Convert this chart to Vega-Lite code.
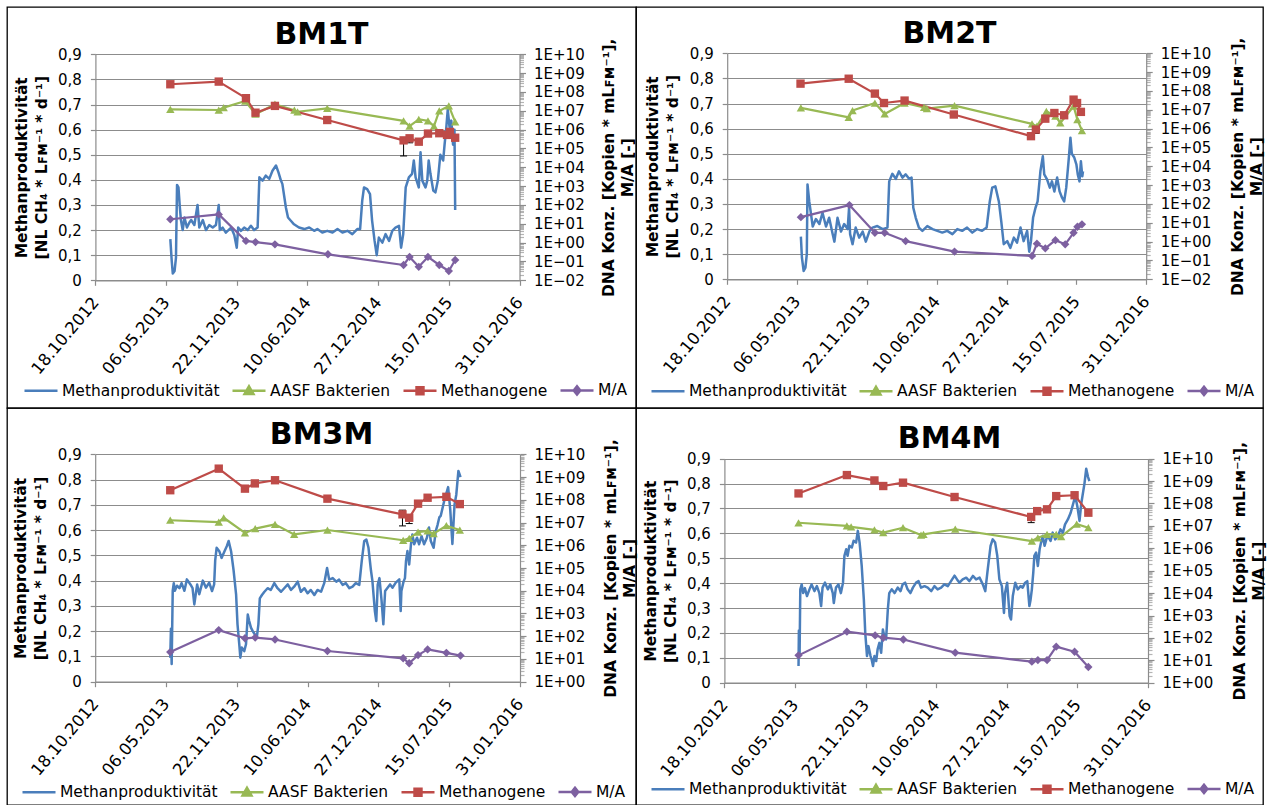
{
"$schema": "https://vega.github.io/schema/vega-lite/v6.json",
"padding": {"left": 6, "top": 6, "right": 0, "bottom": 0},
"background": "white",
"columns": 2,
"spacing": 0,
"bounds": "flush",
"resolve": {"scale": {"color": "independent", "shape": "independent", "x": "independent", "y": "independent"}, "legend": {"color": "independent", "shape": "independent"}},
"datasets": {
"p1": [
{"d":"2013-05-18","v":0.164},{"d":"2013-05-22","v":0.077},{"d":"2013-05-25","v":0.027},{"d":"2013-05-30","v":0.037},{"d":"2013-06-03","v":0.09},{"d":"2013-06-06","v":0.38},{"d":"2013-06-10","v":0.37},{"d":"2013-06-14","v":0.29},{"d":"2013-06-17","v":0.24},{"d":"2013-06-22","v":0.20},{"d":"2013-06-27","v":0.25},{"d":"2013-07-04","v":0.21},{"d":"2013-07-11","v":0.23},{"d":"2013-07-16","v":0.24},{"d":"2013-07-25","v":0.22},{"d":"2013-08-03","v":0.30},{"d":"2013-08-08","v":0.21},{"d":"2013-08-18","v":0.24},{"d":"2013-08-27","v":0.20},{"d":"2013-09-05","v":0.22},{"d":"2013-09-15","v":0.21},{"d":"2013-09-24","v":0.22},{"d":"2013-10-02","v":0.30},{"d":"2013-10-05","v":0.20},{"d":"2013-10-13","v":0.21},{"d":"2013-10-22","v":0.19},{"d":"2013-11-06","v":0.21},{"d":"2013-11-15","v":0.18},{"d":"2013-11-22","v":0.13},{"d":"2013-11-26","v":0.21},{"d":"2013-12-04","v":0.197},{"d":"2013-12-13","v":0.21},{"d":"2013-12-23","v":0.20},{"d":"2014-01-01","v":0.217},{"d":"2014-01-10","v":0.20},{"d":"2014-01-20","v":0.21},{"d":"2014-01-25","v":0.41},{"d":"2014-02-03","v":0.397},{"d":"2014-02-12","v":0.417},{"d":"2014-02-22","v":0.404},{"d":"2014-03-03","v":0.436},{"d":"2014-03-13","v":0.457},{"d":"2014-03-20","v":0.43},{"d":"2014-03-27","v":0.397},{"d":"2014-03-31","v":0.384},{"d":"2014-04-10","v":0.29},{"d":"2014-04-16","v":0.25},{"d":"2014-04-24","v":0.237},{"d":"2014-05-03","v":0.223},{"d":"2014-05-17","v":0.21},{"d":"2014-06-01","v":0.204},{"d":"2014-06-15","v":0.21},{"d":"2014-06-29","v":0.197},{"d":"2014-07-08","v":0.204},{"d":"2014-07-22","v":0.19},{"d":"2014-08-05","v":0.197},{"d":"2014-08-20","v":0.19},{"d":"2014-09-03","v":0.204},{"d":"2014-09-17","v":0.19},{"d":"2014-10-01","v":0.197},{"d":"2014-10-15","v":0.184},{"d":"2014-10-29","v":0.204},{"d":"2014-11-06","v":0.204},{"d":"2014-11-12","v":0.317},{"d":"2014-11-17","v":0.37},{"d":"2014-11-26","v":0.363},{"d":"2014-12-04","v":0.343},{"d":"2014-12-10","v":0.237},{"d":"2014-12-17","v":0.157},{"d":"2014-12-23","v":0.10},{"d":"2014-12-29","v":0.17},{"d":"2015-01-08","v":0.15},{"d":"2015-01-17","v":0.184},{"d":"2015-01-27","v":0.157},{"d":"2015-02-05","v":0.197},{"d":"2015-02-14","v":0.21},{"d":"2015-02-24","v":0.217},{"d":"2015-03-02","v":0.13},{"d":"2015-03-08","v":0.184},{"d":"2015-03-15","v":0.37},{"d":"2015-03-24","v":0.41},{"d":"2015-04-02","v":0.424},{"d":"2015-04-07","v":0.477},{"d":"2015-04-12","v":0.41},{"d":"2015-04-21","v":0.37},{"d":"2015-04-26","v":0.51},{"d":"2015-05-01","v":0.397},{"d":"2015-05-10","v":0.37},{"d":"2015-05-15","v":0.397},{"d":"2015-05-19","v":0.477},{"d":"2015-05-24","v":0.424},{"d":"2015-06-01","v":0.357},{"d":"2015-06-07","v":0.35},{"d":"2015-06-14","v":0.397},{"d":"2015-06-21","v":0.50},{"d":"2015-06-29","v":0.477},{"d":"2015-07-03","v":0.54},{"d":"2015-07-08","v":0.61},{"d":"2015-07-12","v":0.68},{"d":"2015-07-17","v":0.61},{"d":"2015-07-22","v":0.636},{"d":"2015-07-27","v":0.54},{"d":"2015-07-31","v":0.60},{"d":"2015-08-02","v":0.28}
],
"q1": [
{"d":"2013-05-18","s":"AASF Bakterien","v":1.2e7},{"d":"2013-10-02","s":"AASF Bakterien","v":1.1e7},{"d":"2013-10-16","s":"AASF Bakterien","v":1.48e7},{"d":"2013-12-16","s":"AASF Bakterien","v":3.3e7},{"d":"2014-01-14","s":"AASF Bakterien","v":6.6e6},{"d":"2014-03-10","s":"AASF Bakterien","v":2.24e7},{"d":"2014-05-04","s":"AASF Bakterien","v":1.07e7},{"d":"2014-05-13","s":"AASF Bakterien","v":8.9e6},{"d":"2014-08-05","s":"AASF Bakterien","v":1.35e7},{"d":"2015-03-09","s":"AASF Bakterien","v":2.9e6},{"d":"2015-03-26","s":"AASF Bakterien","v":1.55e6},{"d":"2015-04-21","s":"AASF Bakterien","v":3.55e6},{"d":"2015-05-17","s":"AASF Bakterien","v":2.9e6},{"d":"2015-06-03","s":"AASF Bakterien","v":1.55e6},{"d":"2015-06-18","s":"AASF Bakterien","v":9.8e6},{"d":"2015-07-15","s":"AASF Bakterien","v":1.82e7},{"d":"2015-08-02","s":"AASF Bakterien","v":2.57e6},
{"d":"2013-05-18","s":"Methanogene","v":2.57e8},{"d":"2013-10-02","s":"Methanogene","v":3.55e8},{"d":"2013-12-18","s":"Methanogene","v":4.68e7},{"d":"2014-01-14","s":"Methanogene","v":7.94e6},{"d":"2014-03-10","s":"Methanogene","v":1.82e7},{"d":"2014-08-05","s":"Methanogene","v":3.24e6},{"d":"2015-03-09","s":"Methanogene","v":2.69e5},{"d":"2015-03-26","s":"Methanogene","v":3.47e5},{"d":"2015-04-21","s":"Methanogene","v":2.29e5},{"d":"2015-05-17","s":"Methanogene","v":6.17e5},{"d":"2015-06-18","s":"Methanogene","v":6.46e5},{"d":"2015-07-10","s":"Methanogene","v":5.25e5},{"d":"2015-07-18","s":"Methanogene","v":7.59e5},{"d":"2015-08-02","s":"Methanogene","v":3.72e5},
{"d":"2013-05-18","s":"M/A","v":17.4},{"d":"2013-10-02","s":"M/A","v":31.6},{"d":"2013-12-18","s":"M/A","v":1.23},{"d":"2014-01-14","s":"M/A","v":1.07},{"d":"2014-03-10","s":"M/A","v":0.81},{"d":"2014-08-07","s":"M/A","v":0.24},{"d":"2015-03-09","s":"M/A","v":0.065},{"d":"2015-03-26","s":"M/A","v":0.174},{"d":"2015-04-21","s":"M/A","v":0.052},{"d":"2015-05-17","s":"M/A","v":0.174},{"d":"2015-06-18","s":"M/A","v":0.065},{"d":"2015-07-15","s":"M/A","v":0.031},{"d":"2015-08-02","s":"M/A","v":0.12}
],
"e1": [
{"d":"2015-03-09","v":4.0e4,"id":1},{"d":"2015-03-09","v":3.2e5,"id":1},{"d":"2015-03-26","v":2.0e5,"id":2},{"d":"2015-03-26","v":4.5e5,"id":2}
],
"p2": [
{"d":"2013-05-17","v":0.17},{"d":"2013-05-20","v":0.086},{"d":"2013-05-25","v":0.033},{"d":"2013-05-30","v":0.046},{"d":"2013-06-03","v":0.10},{"d":"2013-06-05","v":0.378},{"d":"2013-06-10","v":0.31},{"d":"2013-06-15","v":0.26},{"d":"2013-06-20","v":0.21},{"d":"2013-06-29","v":0.24},{"d":"2013-07-09","v":0.22},{"d":"2013-07-18","v":0.265},{"d":"2013-07-28","v":0.21},{"d":"2013-08-06","v":0.245},{"d":"2013-08-16","v":0.18},{"d":"2013-08-21","v":0.15},{"d":"2013-08-30","v":0.245},{"d":"2013-09-09","v":0.19},{"d":"2013-09-18","v":0.22},{"d":"2013-09-28","v":0.20},{"d":"2013-10-02","v":0.285},{"d":"2013-10-05","v":0.18},{"d":"2013-10-12","v":0.14},{"d":"2013-10-21","v":0.206},{"d":"2013-10-31","v":0.166},{"d":"2013-11-10","v":0.19},{"d":"2013-11-19","v":0.15},{"d":"2013-11-29","v":0.19},{"d":"2013-12-08","v":0.206},{"d":"2013-12-22","v":0.212},{"d":"2014-01-06","v":0.20},{"d":"2014-01-20","v":0.206},{"d":"2014-01-25","v":0.39},{"d":"2014-02-03","v":0.42},{"d":"2014-02-13","v":0.40},{"d":"2014-02-22","v":0.43},{"d":"2014-03-04","v":0.405},{"d":"2014-03-13","v":0.418},{"d":"2014-03-23","v":0.40},{"d":"2014-03-30","v":0.405},{"d":"2014-04-04","v":0.285},{"d":"2014-04-11","v":0.245},{"d":"2014-04-20","v":0.206},{"d":"2014-04-30","v":0.193},{"d":"2014-05-14","v":0.212},{"d":"2014-05-29","v":0.20},{"d":"2014-06-12","v":0.193},{"d":"2014-06-26","v":0.186},{"d":"2014-07-10","v":0.193},{"d":"2014-07-25","v":0.18},{"d":"2014-08-08","v":0.20},{"d":"2014-08-22","v":0.193},{"d":"2014-09-05","v":0.206},{"d":"2014-09-20","v":0.186},{"d":"2014-10-04","v":0.20},{"d":"2014-10-18","v":0.193},{"d":"2014-10-31","v":0.206},{"d":"2014-11-09","v":0.31},{"d":"2014-11-16","v":0.365},{"d":"2014-11-25","v":0.37},{"d":"2014-12-05","v":0.31},{"d":"2014-12-12","v":0.23},{"d":"2014-12-19","v":0.14},{"d":"2014-12-29","v":0.152},{"d":"2015-01-07","v":0.125},{"d":"2015-01-17","v":0.166},{"d":"2015-01-26","v":0.146},{"d":"2015-02-05","v":0.206},{"d":"2015-02-14","v":0.152},{"d":"2015-02-24","v":0.193},{"d":"2015-03-02","v":0.11},{"d":"2015-03-07","v":0.152},{"d":"2015-03-13","v":0.245},{"d":"2015-03-20","v":0.285},{"d":"2015-03-26","v":0.31},{"d":"2015-04-03","v":0.43},{"d":"2015-04-10","v":0.49},{"d":"2015-04-14","v":0.418},{"d":"2015-04-22","v":0.398},{"d":"2015-04-30","v":0.365},{"d":"2015-05-06","v":0.39},{"d":"2015-05-13","v":0.35},{"d":"2015-05-21","v":0.405},{"d":"2015-05-28","v":0.35},{"d":"2015-06-04","v":0.325},{"d":"2015-06-10","v":0.31},{"d":"2015-06-16","v":0.365},{"d":"2015-06-23","v":0.477},{"d":"2015-06-28","v":0.564},{"d":"2015-07-02","v":0.50},{"d":"2015-07-09","v":0.485},{"d":"2015-07-15","v":0.458},{"d":"2015-07-19","v":0.418},{"d":"2015-07-24","v":0.39},{"d":"2015-07-28","v":0.47},{"d":"2015-08-01","v":0.41},{"d":"2015-08-03","v":0.43}
],
"q2": [
{"d":"2013-05-17","s":"AASF Bakterien","v":1.26e7},{"d":"2013-10-01","s":"AASF Bakterien","v":3.98e6},{"d":"2013-10-12","s":"AASF Bakterien","v":9.1e6},{"d":"2013-12-15","s":"AASF Bakterien","v":2.29e7},{"d":"2014-01-12","s":"AASF Bakterien","v":6.03e6},{"d":"2014-03-10","s":"AASF Bakterien","v":2.29e7},{"d":"2014-05-05","s":"AASF Bakterien","v":1.35e7},{"d":"2014-05-13","s":"AASF Bakterien","v":1.15e7},{"d":"2014-07-31","s":"AASF Bakterien","v":1.66e7},{"d":"2015-03-10","s":"AASF Bakterien","v":1.78e6},{"d":"2015-03-24","s":"AASF Bakterien","v":1.35e6},{"d":"2015-04-20","s":"AASF Bakterien","v":8.3e6},{"d":"2015-05-16","s":"AASF Bakterien","v":4.57e6},{"d":"2015-05-30","s":"AASF Bakterien","v":2.0e6},{"d":"2015-07-07","s":"AASF Bakterien","v":1.55e7},{"d":"2015-07-18","s":"AASF Bakterien","v":3.0e6},{"d":"2015-07-31","s":"AASF Bakterien","v":7.9e5},
{"d":"2013-05-16","s":"Methanogene","v":2.45e8},{"d":"2013-10-01","s":"Methanogene","v":4.47e8},{"d":"2013-12-15","s":"Methanogene","v":7.24e7},{"d":"2014-01-10","s":"Methanogene","v":2.29e7},{"d":"2014-03-10","s":"Methanogene","v":3.09e7},{"d":"2014-07-29","s":"Methanogene","v":5.62e6},{"d":"2015-03-07","s":"Methanogene","v":3.98e5},{"d":"2015-03-21","s":"Methanogene","v":8.9e5},{"d":"2015-04-17","s":"Methanogene","v":3.39e6},{"d":"2015-05-13","s":"Methanogene","v":6.76e6},{"d":"2015-06-10","s":"Methanogene","v":5.13e6},{"d":"2015-07-07","s":"Methanogene","v":3.47e7},{"d":"2015-07-17","s":"Methanogene","v":2.29e7},{"d":"2015-07-28","s":"Methanogene","v":7.76e6},
{"d":"2013-05-17","s":"M/A","v":20},{"d":"2013-10-03","s":"M/A","v":87},{"d":"2013-12-15","s":"M/A","v":2.95},{"d":"2014-01-12","s":"M/A","v":2.95},{"d":"2014-03-13","s":"M/A","v":1.07},{"d":"2014-07-31","s":"M/A","v":0.295},{"d":"2015-03-10","s":"M/A","v":0.174},{"d":"2015-03-24","s":"M/A","v":0.78},{"d":"2015-04-17","s":"M/A","v":0.44},{"d":"2015-05-16","s":"M/A","v":1.2},{"d":"2015-06-13","s":"M/A","v":0.72},{"d":"2015-07-07","s":"M/A","v":2.95},{"d":"2015-07-18","s":"M/A","v":6.2},{"d":"2015-07-31","s":"M/A","v":8.3}
],
"e2": [
{"d":"2015-03-21","v":5.5e5,"id":1},{"d":"2015-03-21","v":1.2e6,"id":1}
],
"p3": [
{"d":"2013-05-18","v":0.095},{"d":"2013-05-20","v":0.21},{"d":"2013-05-22","v":0.07},{"d":"2013-05-25","v":0.36},{"d":"2013-05-28","v":0.39},{"d":"2013-05-31","v":0.36},{"d":"2013-06-06","v":0.38},{"d":"2013-06-13","v":0.37},{"d":"2013-06-19","v":0.39},{"d":"2013-06-27","v":0.36},{"d":"2013-07-04","v":0.405},{"d":"2013-07-14","v":0.385},{"d":"2013-07-20","v":0.37},{"d":"2013-07-25","v":0.306},{"d":"2013-08-02","v":0.385},{"d":"2013-08-08","v":0.346},{"d":"2013-08-18","v":0.40},{"d":"2013-08-27","v":0.372},{"d":"2013-09-05","v":0.392},{"d":"2013-09-13","v":0.359},{"d":"2013-09-19","v":0.385},{"d":"2013-09-22","v":0.48},{"d":"2013-09-26","v":0.53},{"d":"2013-10-04","v":0.515},{"d":"2013-10-10","v":0.49},{"d":"2013-10-18","v":0.515},{"d":"2013-10-25","v":0.537},{"d":"2013-10-30","v":0.557},{"d":"2013-11-06","v":0.515},{"d":"2013-11-13","v":0.44},{"d":"2013-11-20","v":0.346},{"d":"2013-11-24","v":0.227},{"d":"2013-11-29","v":0.148},{"d":"2013-12-02","v":0.095},{"d":"2013-12-06","v":0.135},{"d":"2013-12-13","v":0.121},{"d":"2013-12-18","v":0.148},{"d":"2013-12-23","v":0.266},{"d":"2013-12-27","v":0.24},{"d":"2014-01-01","v":0.214},{"d":"2014-01-06","v":0.20},{"d":"2014-01-12","v":0.187},{"d":"2014-01-18","v":0.18},{"d":"2014-01-22","v":0.227},{"d":"2014-01-26","v":0.33},{"d":"2014-02-01","v":0.343},{"d":"2014-02-08","v":0.356},{"d":"2014-02-17","v":0.37},{"d":"2014-02-26","v":0.363},{"d":"2014-03-08","v":0.39},{"d":"2014-03-17","v":0.37},{"d":"2014-03-27","v":0.356},{"d":"2014-04-05","v":0.37},{"d":"2014-04-15","v":0.385},{"d":"2014-04-24","v":0.363},{"d":"2014-05-03","v":0.376},{"d":"2014-05-13","v":0.396},{"d":"2014-05-22","v":0.356},{"d":"2014-06-01","v":0.37},{"d":"2014-06-10","v":0.35},{"d":"2014-06-19","v":0.363},{"d":"2014-06-29","v":0.343},{"d":"2014-07-08","v":0.363},{"d":"2014-07-18","v":0.356},{"d":"2014-07-27","v":0.39},{"d":"2014-08-04","v":0.45},{"d":"2014-08-10","v":0.404},{"d":"2014-08-20","v":0.41},{"d":"2014-08-30","v":0.396},{"d":"2014-09-07","v":0.404},{"d":"2014-09-17","v":0.383},{"d":"2014-09-26","v":0.39},{"d":"2014-10-06","v":0.37},{"d":"2014-10-15","v":0.376},{"d":"2014-10-24","v":0.39},{"d":"2014-11-03","v":0.383},{"d":"2014-11-10","v":0.478},{"d":"2014-11-17","v":0.557},{"d":"2014-11-23","v":0.563},{"d":"2014-11-29","v":0.53},{"d":"2014-12-06","v":0.44},{"d":"2014-12-10","v":0.40},{"d":"2014-12-17","v":0.28},{"d":"2014-12-21","v":0.24},{"d":"2014-12-25","v":0.383},{"d":"2014-12-30","v":0.41},{"d":"2015-01-05","v":0.32},{"d":"2015-01-10","v":0.227},{"d":"2015-01-15","v":0.359},{"d":"2015-01-22","v":0.372},{"d":"2015-01-29","v":0.385},{"d":"2015-02-05","v":0.372},{"d":"2015-02-14","v":0.392},{"d":"2015-02-24","v":0.405},{"d":"2015-02-28","v":0.28},{"d":"2015-03-02","v":0.359},{"d":"2015-03-08","v":0.396},{"d":"2015-03-12","v":0.41},{"d":"2015-03-15","v":0.478},{"d":"2015-03-19","v":0.517},{"d":"2015-03-24","v":0.464},{"d":"2015-03-29","v":0.544},{"d":"2015-04-02","v":0.583},{"d":"2015-04-07","v":0.544},{"d":"2015-04-15","v":0.57},{"d":"2015-04-21","v":0.544},{"d":"2015-04-28","v":0.576},{"d":"2015-05-05","v":0.544},{"d":"2015-05-13","v":0.57},{"d":"2015-05-19","v":0.61},{"d":"2015-05-24","v":0.557},{"d":"2015-06-01","v":0.53},{"d":"2015-06-07","v":0.596},{"d":"2015-06-12","v":0.62},{"d":"2015-06-17","v":0.65},{"d":"2015-06-21","v":0.656},{"d":"2015-07-01","v":0.716},{"d":"2015-07-12","v":0.77},{"d":"2015-07-18","v":0.68},{"d":"2015-07-24","v":0.545},{"d":"2015-07-30","v":0.70},{"d":"2015-08-04","v":0.74},{"d":"2015-08-10","v":0.834},{"d":"2015-08-16","v":0.81}
],
"q3": [
{"d":"2013-05-18","s":"AASF Bakterien","v":1.26e7},{"d":"2013-10-02","s":"AASF Bakterien","v":1.05e7},{"d":"2013-10-16","s":"AASF Bakterien","v":1.62e7},{"d":"2013-12-15","s":"AASF Bakterien","v":3.47e6},{"d":"2014-01-13","s":"AASF Bakterien","v":5.37e6},{"d":"2014-03-10","s":"AASF Bakterien","v":8.3e6},{"d":"2014-05-03","s":"AASF Bakterien","v":3.0e6},{"d":"2014-08-05","s":"AASF Bakterien","v":4.68e6},{"d":"2015-03-07","s":"AASF Bakterien","v":1.66e6},{"d":"2015-03-24","s":"AASF Bakterien","v":2.0e6},{"d":"2015-04-18","s":"AASF Bakterien","v":3.8e6},{"d":"2015-05-15","s":"AASF Bakterien","v":4.27e6},{"d":"2015-06-01","s":"AASF Bakterien","v":3.24e6},{"d":"2015-07-07","s":"AASF Bakterien","v":7.24e6},{"d":"2015-08-14","s":"AASF Bakterien","v":4.68e6},
{"d":"2013-05-18","s":"Methanogene","v":2.63e8},{"d":"2013-10-02","s":"Methanogene","v":2.34e9},{"d":"2013-12-15","s":"Methanogene","v":3.09e8},{"d":"2014-01-12","s":"Methanogene","v":5.25e8},{"d":"2014-03-10","s":"Methanogene","v":7.24e8},{"d":"2014-08-05","s":"Methanogene","v":1.12e8},{"d":"2015-03-05","s":"Methanogene","v":2.29e7},{"d":"2015-03-24","s":"Methanogene","v":1.62e7},{"d":"2015-04-18","s":"Methanogene","v":6.76e7},{"d":"2015-05-15","s":"Methanogene","v":1.23e8},{"d":"2015-07-07","s":"Methanogene","v":1.35e8},{"d":"2015-08-14","s":"Methanogene","v":6.46e7},
{"d":"2013-05-18","s":"M/A","v":20},{"d":"2013-10-02","s":"M/A","v":186},{"d":"2013-12-15","s":"M/A","v":81},{"d":"2014-01-13","s":"M/A","v":87},{"d":"2014-03-10","s":"M/A","v":72},{"d":"2014-08-05","s":"M/A","v":22.4},{"d":"2015-03-07","s":"M/A","v":10.7},{"d":"2015-03-24","s":"M/A","v":6.46},{"d":"2015-04-18","s":"M/A","v":14.8},{"d":"2015-05-15","s":"M/A","v":26.3},{"d":"2015-07-07","s":"M/A","v":18.6},{"d":"2015-08-16","s":"M/A","v":14.1}
],
"e3": [
{"d":"2015-03-05","v":7.1e6,"id":1},{"d":"2015-03-05","v":3.5e7,"id":1},{"d":"2015-03-24","v":9.0e6,"id":2},{"d":"2015-03-24","v":2.2e7,"id":2}
],
"p4": [
{"d":"2013-05-16","v":0.067},{"d":"2013-05-17","v":0.21},{"d":"2013-05-19","v":0.107},{"d":"2013-05-21","v":0.375},{"d":"2013-05-25","v":0.395},{"d":"2013-05-29","v":0.36},{"d":"2013-06-03","v":0.38},{"d":"2013-06-09","v":0.348},{"d":"2013-06-16","v":0.375},{"d":"2013-06-22","v":0.395},{"d":"2013-06-30","v":0.368},{"d":"2013-07-07","v":0.388},{"d":"2013-07-14","v":0.36},{"d":"2013-07-19","v":0.308},{"d":"2013-07-23","v":0.382},{"d":"2013-07-30","v":0.402},{"d":"2013-08-07","v":0.375},{"d":"2013-08-14","v":0.395},{"d":"2013-08-21","v":0.36},{"d":"2013-08-24","v":0.32},{"d":"2013-08-30","v":0.382},{"d":"2013-09-06","v":0.395},{"d":"2013-09-13","v":0.36},{"d":"2013-09-19","v":0.402},{"d":"2013-09-23","v":0.51},{"d":"2013-09-28","v":0.536},{"d":"2013-10-02","v":0.51},{"d":"2013-10-07","v":0.55},{"d":"2013-10-14","v":0.543},{"d":"2013-10-19","v":0.57},{"d":"2013-10-26","v":0.563},{"d":"2013-10-31","v":0.61},{"d":"2013-11-05","v":0.563},{"d":"2013-11-11","v":0.469},{"d":"2013-11-17","v":0.335},{"d":"2013-11-21","v":0.20},{"d":"2013-11-26","v":0.107},{"d":"2013-11-30","v":0.147},{"d":"2013-12-06","v":0.107},{"d":"2013-12-09","v":0.094},{"d":"2013-12-13","v":0.067},{"d":"2013-12-17","v":0.107},{"d":"2013-12-22","v":0.087},{"d":"2013-12-26","v":0.134},{"d":"2013-12-31","v":0.16},{"d":"2014-01-05","v":0.12},{"d":"2014-01-10","v":0.214},{"d":"2014-01-14","v":0.187},{"d":"2014-01-19","v":0.174},{"d":"2014-01-24","v":0.295},{"d":"2014-01-28","v":0.36},{"d":"2014-02-04","v":0.375},{"d":"2014-02-12","v":0.36},{"d":"2014-02-21","v":0.382},{"d":"2014-03-01","v":0.368},{"d":"2014-03-07","v":0.395},{"d":"2014-03-14","v":0.402},{"d":"2014-03-21","v":0.375},{"d":"2014-03-29","v":0.36},{"d":"2014-04-05","v":0.382},{"d":"2014-04-14","v":0.402},{"d":"2014-04-21","v":0.408},{"d":"2014-04-28","v":0.382},{"d":"2014-05-08","v":0.388},{"d":"2014-05-17","v":0.382},{"d":"2014-05-27","v":0.368},{"d":"2014-06-05","v":0.388},{"d":"2014-06-14","v":0.375},{"d":"2014-06-24","v":0.382},{"d":"2014-07-03","v":0.395},{"d":"2014-07-13","v":0.388},{"d":"2014-07-22","v":0.408},{"d":"2014-08-01","v":0.43},{"d":"2014-08-08","v":0.415},{"d":"2014-08-15","v":0.402},{"d":"2014-08-24","v":0.415},{"d":"2014-09-03","v":0.422},{"d":"2014-09-12","v":0.408},{"d":"2014-09-22","v":0.429},{"d":"2014-10-01","v":0.415},{"d":"2014-10-11","v":0.422},{"d":"2014-10-20","v":0.395},{"d":"2014-10-27","v":0.368},{"d":"2014-11-03","v":0.455},{"d":"2014-11-11","v":0.55},{"d":"2014-11-17","v":0.576},{"d":"2014-11-24","v":0.563},{"d":"2014-11-30","v":0.51},{"d":"2014-12-06","v":0.415},{"d":"2014-12-13","v":0.388},{"d":"2014-12-19","v":0.28},{"d":"2014-12-22","v":0.36},{"d":"2014-12-28","v":0.402},{"d":"2015-01-04","v":0.268},{"d":"2015-01-08","v":0.254},{"d":"2015-01-13","v":0.348},{"d":"2015-01-20","v":0.402},{"d":"2015-01-27","v":0.375},{"d":"2015-02-04","v":0.388},{"d":"2015-02-10","v":0.382},{"d":"2015-02-17","v":0.402},{"d":"2015-02-23","v":0.408},{"d":"2015-03-01","v":0.308},{"d":"2015-03-04","v":0.33},{"d":"2015-03-08","v":0.375},{"d":"2015-03-12","v":0.442},{"d":"2015-03-15","v":0.51},{"d":"2015-03-20","v":0.523},{"d":"2015-03-25","v":0.469},{"d":"2015-03-30","v":0.536},{"d":"2015-04-03","v":0.563},{"d":"2015-04-08","v":0.59},{"d":"2015-04-13","v":0.55},{"d":"2015-04-18","v":0.576},{"d":"2015-04-22","v":0.59},{"d":"2015-04-30","v":0.57},{"d":"2015-05-06","v":0.603},{"d":"2015-05-13","v":0.576},{"d":"2015-05-21","v":0.59},{"d":"2015-05-28","v":0.616},{"d":"2015-06-04","v":0.603},{"d":"2015-06-10","v":0.636},{"d":"2015-06-18","v":0.656},{"d":"2015-06-26","v":0.683},{"d":"2015-07-09","v":0.75},{"d":"2015-07-15","v":0.707},{"d":"2015-07-21","v":0.65},{"d":"2015-07-26","v":0.72},{"d":"2015-08-04","v":0.80},{"d":"2015-08-09","v":0.86},{"d":"2015-08-14","v":0.827},{"d":"2015-08-18","v":0.81}
],
"q4": [
{"d":"2013-05-16","s":"AASF Bakterien","v":1.38e7},{"d":"2013-09-30","s":"AASF Bakterien","v":1.0e7},{"d":"2013-10-12","s":"AASF Bakterien","v":9.1e6},{"d":"2013-12-17","s":"AASF Bakterien","v":6.6e6},{"d":"2014-01-11","s":"AASF Bakterien","v":5.0e6},{"d":"2014-03-08","s":"AASF Bakterien","v":8.3e6},{"d":"2014-04-28","s":"AASF Bakterien","v":3.9e6},{"d":"2014-05-05","s":"AASF Bakterien","v":4.2e6},{"d":"2014-08-03","s":"AASF Bakterien","v":7.1e6},{"d":"2015-03-08","s":"AASF Bakterien","v":2.1e6},{"d":"2015-03-25","s":"AASF Bakterien","v":2.95e6},{"d":"2015-04-20","s":"AASF Bakterien","v":4.17e6},{"d":"2015-05-16","s":"AASF Bakterien","v":4.17e6},{"d":"2015-05-30","s":"AASF Bakterien","v":3.3e6},{"d":"2015-07-13","s":"AASF Bakterien","v":1.2e7},{"d":"2015-08-15","s":"AASF Bakterien","v":8.3e6},
{"d":"2013-05-16","s":"Methanogene","v":2.82e8},{"d":"2013-09-30","s":"Methanogene","v":1.86e9},{"d":"2013-12-17","s":"Methanogene","v":1.07e9},{"d":"2014-01-11","s":"Methanogene","v":6.03e8},{"d":"2014-03-08","s":"Methanogene","v":8.5e8},{"d":"2014-08-01","s":"Methanogene","v":1.95e8},{"d":"2015-03-06","s":"Methanogene","v":2.51e7},{"d":"2015-03-23","s":"Methanogene","v":4.57e7},{"d":"2015-04-20","s":"Methanogene","v":5.5e7},{"d":"2015-05-16","s":"Methanogene","v":2.14e8},{"d":"2015-07-07","s":"Methanogene","v":2.34e8},{"d":"2015-08-15","s":"Methanogene","v":3.89e7},
{"d":"2013-05-16","s":"M/A","v":16.6},{"d":"2013-09-30","s":"M/A","v":190},{"d":"2013-12-19","s":"M/A","v":129},{"d":"2014-01-11","s":"M/A","v":102},{"d":"2014-03-09","s":"M/A","v":85},{"d":"2014-08-03","s":"M/A","v":21.9},{"d":"2015-03-08","s":"M/A","v":8.7},{"d":"2015-03-25","s":"M/A","v":10.2},{"d":"2015-04-20","s":"M/A","v":10.2},{"d":"2015-05-16","s":"M/A","v":40.7},{"d":"2015-07-07","s":"M/A","v":24},{"d":"2015-08-15","s":"M/A","v":5.0}
],
"e4": [
{"d":"2015-03-06","v":1.4e7,"id":1},{"d":"2015-03-06","v":2.51e7,"id":1}
]
},
"concat": [
{
"width": 629, "height": 401,
"title": {"text": "BM1T", "fontSize": 30, "fontWeight": "bold", "anchor": "middle", "frame": "group", "offset": -43, "color": "black", "font": "DejaVu Sans"},
"resolve": {"scale": {"y": "independent"}},
"layer": [
{"data": {"name": "p1"}, "mark": {"type": "line", "strokeWidth": 2.5, "strokeJoin": "round"},
"encoding": {
"x": {"field": "d", "type": "temporal", "scale": {"type": "utc", "domain": [{"year":2012,"month":10,"date":18,"utc":true},{"year":2016,"month":1,"date":31,"utc":true}], "range": [88.4, 512.5], "nice": false},
"axis": {"orient": "bottom", "offset": -127.7, "values": [{"year":2012,"month":10,"date":18,"utc":true},{"year":2013,"month":5,"date":6,"utc":true},{"year":2013,"month":11,"date":22,"utc":true},{"year":2014,"month":6,"date":10,"utc":true},{"year":2014,"month":12,"date":27,"utc":true},{"year":2015,"month":7,"date":15,"utc":true},{"year":2016,"month":1,"date":31,"utc":true}], "format": "%d.%m.%Y", "labelAngle": -50, "labelFontSize": 16.5, "labelPadding": 14, "tickSize": 5, "title": null}},
"y": {"field": "v", "type": "quantitative", "scale": {"domain": [0, 0.9], "range": [273.3, 47.3], "nice": false, "zero": false},
"axis": {"orient": "left", "offset": -88.4, "values": [0,0.1,0.2,0.3,0.4,0.5,0.6,0.7,0.8,0.9], "labelExpr": "datum.value == 0 ? '0' : replace(format(datum.value, '.1f'), '.', ',')", "grid": true, "tickSize": 5, "labelPadding": 9, "title": ["Methanproduktivität", "[NL CH₄ * Lꜰᴍ⁻¹ * d⁻¹]"], "titlePadding": 8.5}},
"color": {"datum": "Methanproduktivität", "type": "nominal", "scale": {"domain": ["Methanproduktivität", "AASF Bakterien", "Methanogene", "M/A"], "range": ["#4A7EBB", "#98B954", "#BE4B48", "#7D60A0"]},
"legend": {"title": null, "orient": "none", "legendX": 16, "legendY": 365, "direction": "horizontal",
"encode": {"symbols": {"update": {"shape": {"signal": "datum.value === 'AASF Bakterien' ? 'M-1,0H1M0,-0.27L0.27,0.2L-0.27,0.2Z' : datum.value === 'Methanogene' ? 'M-1,0H1M-0.21,-0.21H0.21V0.21H-0.21Z' : datum.value === 'M/A' ? 'M-1,0H1M0,-0.25L0.2,0L0,0.25L-0.2,0Z' : 'M-1,0H1'"}, "fill": {"signal": "datum.value === 'AASF Bakterien' ? '#98B954' : datum.value === 'Methanogene' ? '#BE4B48' : datum.value === 'M/A' ? '#7D60A0' : '#4A7EBB'"}, "stroke": {"signal": "datum.value === 'AASF Bakterien' ? '#98B954' : datum.value === 'Methanogene' ? '#BE4B48' : datum.value === 'M/A' ? '#7D60A0' : '#4A7EBB'"}, "strokeWidth": {"value": 2.5}, "opacity": {"value": 1}, "fillOpacity": {"value": 1}, "strokeOpacity": {"value": 1}}}}}}
}},
{"encoding": {
"x": {"field": "d", "type": "temporal", "scale": {"type": "utc", "domain": [{"year":2012,"month":10,"date":18,"utc":true},{"year":2016,"month":1,"date":31,"utc":true}], "range": [88.4, 512.5], "nice": false},
"axis": {"orient": "bottom", "offset": -127.7, "values": [{"year":2012,"month":10,"date":18,"utc":true},{"year":2013,"month":5,"date":6,"utc":true},{"year":2013,"month":11,"date":22,"utc":true},{"year":2014,"month":6,"date":10,"utc":true},{"year":2014,"month":12,"date":27,"utc":true},{"year":2015,"month":7,"date":15,"utc":true},{"year":2016,"month":1,"date":31,"utc":true}], "format": "%d.%m.%Y", "labelAngle": -50, "labelFontSize": 16.5, "labelPadding": 14, "tickSize": 5, "title": null}},
"y": {"field": "v", "type": "quantitative", "scale": {"type": "log", "domain": [0.01, 1e10], "range": [273.3, 47.3], "nice": false},
"axis": {"orient": "right", "offset": -116.5, "tickCount": 50, "labelExpr": "abs(log(datum.value)/LN10 - round(log(datum.value)/LN10)) < 0.01 ? '1E' + format(round(log(datum.value)/LN10), '+03d') : ''", "tickColor": {"condition": {"test": "abs(log(datum.value)/LN10 - round(log(datum.value)/LN10)) < 0.01", "value": "#8C8C8C"}, "value": "#B4B4B4"}, "tickSize": {"condition": {"test": "abs(log(datum.value)/LN10 - round(log(datum.value)/LN10)) < 0.01", "value": 6}, "value": 4}, "labelPadding": 8, "title": ["DNA Konz. [Kopien * mLꜰᴍ⁻¹],", "M/A [-]"], "titleAngle": 270, "titleBaseline": "top", "titleX": 82, "titleY": 160.3, "titleLineHeight": 19}}
},
"layer": [
{"data": {"name": "q1"}, "mark": {"type": "line", "strokeWidth": 2.2, "strokeJoin": "round"}, "encoding": {"color": {"field": "s", "type": "nominal", "scale": {"domain": ["Methanproduktivität", "AASF Bakterien", "Methanogene", "M/A"], "range": ["#4A7EBB", "#98B954", "#BE4B48", "#7D60A0"]},
"legend": {"title": null, "orient": "none", "legendX": 16, "legendY": 365, "direction": "horizontal",
"encode": {"symbols": {"update": {"shape": {"signal": "datum.value === 'AASF Bakterien' ? 'M-1,0H1M0,-0.27L0.27,0.2L-0.27,0.2Z' : datum.value === 'Methanogene' ? 'M-1,0H1M-0.21,-0.21H0.21V0.21H-0.21Z' : datum.value === 'M/A' ? 'M-1,0H1M0,-0.25L0.2,0L0,0.25L-0.2,0Z' : 'M-1,0H1'"}, "fill": {"signal": "datum.value === 'AASF Bakterien' ? '#98B954' : datum.value === 'Methanogene' ? '#BE4B48' : datum.value === 'M/A' ? '#7D60A0' : '#4A7EBB'"}, "stroke": {"signal": "datum.value === 'AASF Bakterien' ? '#98B954' : datum.value === 'Methanogene' ? '#BE4B48' : datum.value === 'M/A' ? '#7D60A0' : '#4A7EBB'"}, "strokeWidth": {"value": 2.5}, "opacity": {"value": 1}, "fillOpacity": {"value": 1}, "strokeOpacity": {"value": 1}}}}}}}},
{"data": {"name": "e1"}, "mark": {"type": "line", "color": "black", "strokeWidth": 1}, "encoding": {"detail": {"field": "id", "type": "nominal"}}},
{"data": {"name": "e1"}, "mark": {"type": "tick", "orient": "horizontal", "color": "black", "size": 7, "thickness": 1, "opacity": 1}},
{"data": {"name": "q1"}, "mark": {"type": "point", "filled": true, "opacity": 1, "size": 70}, "encoding": {"color": {"field": "s", "type": "nominal", "scale": {"domain": ["Methanproduktivität", "AASF Bakterien", "Methanogene", "M/A"], "range": ["#4A7EBB", "#98B954", "#BE4B48", "#7D60A0"]}, "legend": {"title": null, "orient": "none", "legendX": 16, "legendY": 365, "direction": "horizontal",
"encode": {"symbols": {"update": {"shape": {"signal": "datum.value === 'AASF Bakterien' ? 'M-1,0H1M0,-0.27L0.27,0.2L-0.27,0.2Z' : datum.value === 'Methanogene' ? 'M-1,0H1M-0.21,-0.21H0.21V0.21H-0.21Z' : datum.value === 'M/A' ? 'M-1,0H1M0,-0.25L0.2,0L0,0.25L-0.2,0Z' : 'M-1,0H1'"}, "fill": {"signal": "datum.value === 'AASF Bakterien' ? '#98B954' : datum.value === 'Methanogene' ? '#BE4B48' : datum.value === 'M/A' ? '#7D60A0' : '#4A7EBB'"}, "stroke": {"signal": "datum.value === 'AASF Bakterien' ? '#98B954' : datum.value === 'Methanogene' ? '#BE4B48' : datum.value === 'M/A' ? '#7D60A0' : '#4A7EBB'"}, "strokeWidth": {"value": 2.5}, "opacity": {"value": 1}, "fillOpacity": {"value": 1}, "strokeOpacity": {"value": 1}}}}}},
"shape": {"field": "s", "type": "nominal", "scale": {"domain": ["AASF Bakterien", "Methanogene", "M/A"], "range": ["triangle-up", "square", "diamond"]}, "legend": null}}}
]}
]
},
{
"width": 627, "height": 401,
"title": {"text": "BM2T", "fontSize": 30, "fontWeight": "bold", "anchor": "middle", "frame": "group", "offset": -42, "color": "black", "font": "DejaVu Sans"},
"resolve": {"scale": {"y": "independent"}},
"layer": [
{"data": {"name": "p2"}, "mark": {"type": "line", "strokeWidth": 2.5, "strokeJoin": "round"},
"encoding": {
"x": {"field": "d", "type": "temporal", "scale": {"type": "utc", "domain": [{"year":2012,"month":10,"date":18,"utc":true},{"year":2016,"month":1,"date":31,"utc":true}], "range": [91.2, 510.2], "nice": false},
"axis": {"orient": "bottom", "offset": -128.7, "values": [{"year":2012,"month":10,"date":18,"utc":true},{"year":2013,"month":5,"date":6,"utc":true},{"year":2013,"month":11,"date":22,"utc":true},{"year":2014,"month":6,"date":10,"utc":true},{"year":2014,"month":12,"date":27,"utc":true},{"year":2015,"month":7,"date":15,"utc":true},{"year":2016,"month":1,"date":31,"utc":true}], "format": "%d.%m.%Y", "labelAngle": -50, "labelFontSize": 16.5, "labelPadding": 14, "tickSize": 5, "title": null}},
"y": {"field": "v", "type": "quantitative", "scale": {"domain": [0, 0.9], "range": [272.3, 46.3], "nice": false, "zero": false},
"axis": {"orient": "left", "offset": -91.2, "values": [0,0.1,0.2,0.3,0.4,0.5,0.6,0.7,0.8,0.9], "labelExpr": "datum.value == 0 ? '0' : replace(format(datum.value, '.1f'), '.', ',')", "grid": true, "tickSize": 5, "labelPadding": 9, "title": ["Methanproduktivität", "[NL CH₄ * Lꜰᴍ⁻¹ * d⁻¹]"], "titlePadding": 8.5}},
"color": {"datum": "Methanproduktivität", "type": "nominal", "scale": {"domain": ["Methanproduktivität", "AASF Bakterien", "Methanogene", "M/A"], "range": ["#4A7EBB", "#98B954", "#BE4B48", "#7D60A0"]},
"legend": {"title": null, "orient": "none", "legendX": 14, "legendY": 365.5, "direction": "horizontal",
"encode": {"symbols": {"update": {"shape": {"signal": "datum.value === 'AASF Bakterien' ? 'M-1,0H1M0,-0.27L0.27,0.2L-0.27,0.2Z' : datum.value === 'Methanogene' ? 'M-1,0H1M-0.21,-0.21H0.21V0.21H-0.21Z' : datum.value === 'M/A' ? 'M-1,0H1M0,-0.25L0.2,0L0,0.25L-0.2,0Z' : 'M-1,0H1'"}, "fill": {"signal": "datum.value === 'AASF Bakterien' ? '#98B954' : datum.value === 'Methanogene' ? '#BE4B48' : datum.value === 'M/A' ? '#7D60A0' : '#4A7EBB'"}, "stroke": {"signal": "datum.value === 'AASF Bakterien' ? '#98B954' : datum.value === 'Methanogene' ? '#BE4B48' : datum.value === 'M/A' ? '#7D60A0' : '#4A7EBB'"}, "strokeWidth": {"value": 2.5}, "opacity": {"value": 1}, "fillOpacity": {"value": 1}, "strokeOpacity": {"value": 1}}}}}}
}},
{"encoding": {
"x": {"field": "d", "type": "temporal", "scale": {"type": "utc", "domain": [{"year":2012,"month":10,"date":18,"utc":true},{"year":2016,"month":1,"date":31,"utc":true}], "range": [91.2, 510.2], "nice": false},
"axis": {"orient": "bottom", "offset": -128.7, "values": [{"year":2012,"month":10,"date":18,"utc":true},{"year":2013,"month":5,"date":6,"utc":true},{"year":2013,"month":11,"date":22,"utc":true},{"year":2014,"month":6,"date":10,"utc":true},{"year":2014,"month":12,"date":27,"utc":true},{"year":2015,"month":7,"date":15,"utc":true},{"year":2016,"month":1,"date":31,"utc":true}], "format": "%d.%m.%Y", "labelAngle": -50, "labelFontSize": 16.5, "labelPadding": 14, "tickSize": 5, "title": null}},
"y": {"field": "v", "type": "quantitative", "scale": {"type": "log", "domain": [0.01, 1e10], "range": [272.3, 46.3], "nice": false},
"axis": {"orient": "right", "offset": -116.8, "tickCount": 50, "labelExpr": "abs(log(datum.value)/LN10 - round(log(datum.value)/LN10)) < 0.01 ? '1E' + format(round(log(datum.value)/LN10), '+03d') : ''", "tickColor": {"condition": {"test": "abs(log(datum.value)/LN10 - round(log(datum.value)/LN10)) < 0.01", "value": "#8C8C8C"}, "value": "#B4B4B4"}, "tickSize": {"condition": {"test": "abs(log(datum.value)/LN10 - round(log(datum.value)/LN10)) < 0.01", "value": 6}, "value": 4}, "labelPadding": 8, "title": ["DNA Konz. [Kopien * mLꜰᴍ⁻¹],", "M/A [-]"], "titleAngle": 270, "titleBaseline": "top", "titleX": 84, "titleY": 159.3, "titleLineHeight": 19}}
},
"layer": [
{"data": {"name": "q2"}, "mark": {"type": "line", "strokeWidth": 2.2, "strokeJoin": "round"}, "encoding": {"color": {"field": "s", "type": "nominal", "scale": {"domain": ["Methanproduktivität", "AASF Bakterien", "Methanogene", "M/A"], "range": ["#4A7EBB", "#98B954", "#BE4B48", "#7D60A0"]},
"legend": {"title": null, "orient": "none", "legendX": 14, "legendY": 365.5, "direction": "horizontal",
"encode": {"symbols": {"update": {"shape": {"signal": "datum.value === 'AASF Bakterien' ? 'M-1,0H1M0,-0.27L0.27,0.2L-0.27,0.2Z' : datum.value === 'Methanogene' ? 'M-1,0H1M-0.21,-0.21H0.21V0.21H-0.21Z' : datum.value === 'M/A' ? 'M-1,0H1M0,-0.25L0.2,0L0,0.25L-0.2,0Z' : 'M-1,0H1'"}, "fill": {"signal": "datum.value === 'AASF Bakterien' ? '#98B954' : datum.value === 'Methanogene' ? '#BE4B48' : datum.value === 'M/A' ? '#7D60A0' : '#4A7EBB'"}, "stroke": {"signal": "datum.value === 'AASF Bakterien' ? '#98B954' : datum.value === 'Methanogene' ? '#BE4B48' : datum.value === 'M/A' ? '#7D60A0' : '#4A7EBB'"}, "strokeWidth": {"value": 2.5}, "opacity": {"value": 1}, "fillOpacity": {"value": 1}, "strokeOpacity": {"value": 1}}}}}}}},
{"data": {"name": "e2"}, "mark": {"type": "line", "color": "black", "strokeWidth": 1}, "encoding": {"detail": {"field": "id", "type": "nominal"}}},
{"data": {"name": "e2"}, "mark": {"type": "tick", "orient": "horizontal", "color": "black", "size": 7, "thickness": 1, "opacity": 1}},
{"data": {"name": "q2"}, "mark": {"type": "point", "filled": true, "opacity": 1, "size": 70}, "encoding": {"color": {"field": "s", "type": "nominal", "scale": {"domain": ["Methanproduktivität", "AASF Bakterien", "Methanogene", "M/A"], "range": ["#4A7EBB", "#98B954", "#BE4B48", "#7D60A0"]}, "legend": {"title": null, "orient": "none", "legendX": 14, "legendY": 365.5, "direction": "horizontal",
"encode": {"symbols": {"update": {"shape": {"signal": "datum.value === 'AASF Bakterien' ? 'M-1,0H1M0,-0.27L0.27,0.2L-0.27,0.2Z' : datum.value === 'Methanogene' ? 'M-1,0H1M-0.21,-0.21H0.21V0.21H-0.21Z' : datum.value === 'M/A' ? 'M-1,0H1M0,-0.25L0.2,0L0,0.25L-0.2,0Z' : 'M-1,0H1'"}, "fill": {"signal": "datum.value === 'AASF Bakterien' ? '#98B954' : datum.value === 'Methanogene' ? '#BE4B48' : datum.value === 'M/A' ? '#7D60A0' : '#4A7EBB'"}, "stroke": {"signal": "datum.value === 'AASF Bakterien' ? '#98B954' : datum.value === 'Methanogene' ? '#BE4B48' : datum.value === 'M/A' ? '#7D60A0' : '#4A7EBB'"}, "strokeWidth": {"value": 2.5}, "opacity": {"value": 1}, "fillOpacity": {"value": 1}, "strokeOpacity": {"value": 1}}}}}},
"shape": {"field": "s", "type": "nominal", "scale": {"domain": ["AASF Bakterien", "Methanogene", "M/A"], "range": ["triangle-up", "square", "diamond"]}, "legend": null}}}
]}
]
},
{
"width": 629, "height": 397,
"title": {"text": "BM3M", "fontSize": 30, "fontWeight": "bold", "anchor": "middle", "frame": "group", "offset": -42, "color": "black", "font": "DejaVu Sans"},
"resolve": {"scale": {"y": "independent"}},
"layer": [
{"data": {"name": "p3"}, "mark": {"type": "line", "strokeWidth": 2.5, "strokeJoin": "round"},
"encoding": {
"x": {"field": "d", "type": "temporal", "scale": {"type": "utc", "domain": [{"year":2012,"month":10,"date":18,"utc":true},{"year":2016,"month":1,"date":31,"utc":true}], "range": [88.2, 513], "nice": false},
"axis": {"orient": "bottom", "offset": -123.3, "values": [{"year":2012,"month":10,"date":18,"utc":true},{"year":2013,"month":5,"date":6,"utc":true},{"year":2013,"month":11,"date":22,"utc":true},{"year":2014,"month":6,"date":10,"utc":true},{"year":2014,"month":12,"date":27,"utc":true},{"year":2015,"month":7,"date":15,"utc":true},{"year":2016,"month":1,"date":31,"utc":true}], "format": "%d.%m.%Y", "labelAngle": -50, "labelFontSize": 16.5, "labelPadding": 14, "tickSize": 5, "title": null}},
"y": {"field": "v", "type": "quantitative", "scale": {"domain": [0, 0.9], "range": [273.7, 46.3], "nice": false, "zero": false},
"axis": {"orient": "left", "offset": -88.2, "values": [0,0.1,0.2,0.3,0.4,0.5,0.6,0.7,0.8,0.9], "labelExpr": "datum.value == 0 ? '0' : replace(format(datum.value, '.1f'), '.', ',')", "grid": true, "tickSize": 5, "labelPadding": 9, "title": ["Methanproduktivität", "[NL CH₄ * Lꜰᴍ⁻¹ * d⁻¹]"], "titlePadding": 8.5}},
"color": {"datum": "Methanproduktivität", "type": "nominal", "scale": {"domain": ["Methanproduktivität", "AASF Bakterien", "Methanogene", "M/A"], "range": ["#4A7EBB", "#98B954", "#BE4B48", "#7D60A0"]},
"legend": {"title": null, "orient": "none", "legendX": 14, "legendY": 365.5, "direction": "horizontal",
"encode": {"symbols": {"update": {"shape": {"signal": "datum.value === 'AASF Bakterien' ? 'M-1,0H1M0,-0.27L0.27,0.2L-0.27,0.2Z' : datum.value === 'Methanogene' ? 'M-1,0H1M-0.21,-0.21H0.21V0.21H-0.21Z' : datum.value === 'M/A' ? 'M-1,0H1M0,-0.25L0.2,0L0,0.25L-0.2,0Z' : 'M-1,0H1'"}, "fill": {"signal": "datum.value === 'AASF Bakterien' ? '#98B954' : datum.value === 'Methanogene' ? '#BE4B48' : datum.value === 'M/A' ? '#7D60A0' : '#4A7EBB'"}, "stroke": {"signal": "datum.value === 'AASF Bakterien' ? '#98B954' : datum.value === 'Methanogene' ? '#BE4B48' : datum.value === 'M/A' ? '#7D60A0' : '#4A7EBB'"}, "strokeWidth": {"value": 2.5}, "opacity": {"value": 1}, "fillOpacity": {"value": 1}, "strokeOpacity": {"value": 1}}}}}}
}},
{"encoding": {
"x": {"field": "d", "type": "temporal", "scale": {"type": "utc", "domain": [{"year":2012,"month":10,"date":18,"utc":true},{"year":2016,"month":1,"date":31,"utc":true}], "range": [88.2, 513], "nice": false},
"axis": {"orient": "bottom", "offset": -123.3, "values": [{"year":2012,"month":10,"date":18,"utc":true},{"year":2013,"month":5,"date":6,"utc":true},{"year":2013,"month":11,"date":22,"utc":true},{"year":2014,"month":6,"date":10,"utc":true},{"year":2014,"month":12,"date":27,"utc":true},{"year":2015,"month":7,"date":15,"utc":true},{"year":2016,"month":1,"date":31,"utc":true}], "format": "%d.%m.%Y", "labelAngle": -50, "labelFontSize": 16.5, "labelPadding": 14, "tickSize": 5, "title": null}},
"y": {"field": "v", "type": "quantitative", "scale": {"type": "log", "domain": [1, 1e10], "range": [273.7, 46.3], "nice": false},
"axis": {"orient": "right", "offset": -116, "tickCount": 50, "labelExpr": "abs(log(datum.value)/LN10 - round(log(datum.value)/LN10)) < 0.01 ? '1E' + format(round(log(datum.value)/LN10), '+03d') : ''", "tickColor": {"condition": {"test": "abs(log(datum.value)/LN10 - round(log(datum.value)/LN10)) < 0.01", "value": "#8C8C8C"}, "value": "#B4B4B4"}, "tickSize": {"condition": {"test": "abs(log(datum.value)/LN10 - round(log(datum.value)/LN10)) < 0.01", "value": 6}, "value": 4}, "labelPadding": 8, "title": ["DNA Konz. [Kopien * mLꜰᴍ⁻¹],", "M/A [-]"], "titleAngle": 270, "titleBaseline": "top", "titleX": 83, "titleY": 160, "titleLineHeight": 19}}
},
"layer": [
{"data": {"name": "q3"}, "mark": {"type": "line", "strokeWidth": 2.2, "strokeJoin": "round"}, "encoding": {"color": {"field": "s", "type": "nominal", "scale": {"domain": ["Methanproduktivität", "AASF Bakterien", "Methanogene", "M/A"], "range": ["#4A7EBB", "#98B954", "#BE4B48", "#7D60A0"]},
"legend": {"title": null, "orient": "none", "legendX": 14, "legendY": 365.5, "direction": "horizontal",
"encode": {"symbols": {"update": {"shape": {"signal": "datum.value === 'AASF Bakterien' ? 'M-1,0H1M0,-0.27L0.27,0.2L-0.27,0.2Z' : datum.value === 'Methanogene' ? 'M-1,0H1M-0.21,-0.21H0.21V0.21H-0.21Z' : datum.value === 'M/A' ? 'M-1,0H1M0,-0.25L0.2,0L0,0.25L-0.2,0Z' : 'M-1,0H1'"}, "fill": {"signal": "datum.value === 'AASF Bakterien' ? '#98B954' : datum.value === 'Methanogene' ? '#BE4B48' : datum.value === 'M/A' ? '#7D60A0' : '#4A7EBB'"}, "stroke": {"signal": "datum.value === 'AASF Bakterien' ? '#98B954' : datum.value === 'Methanogene' ? '#BE4B48' : datum.value === 'M/A' ? '#7D60A0' : '#4A7EBB'"}, "strokeWidth": {"value": 2.5}, "opacity": {"value": 1}, "fillOpacity": {"value": 1}, "strokeOpacity": {"value": 1}}}}}}}},
{"data": {"name": "e3"}, "mark": {"type": "line", "color": "black", "strokeWidth": 1}, "encoding": {"detail": {"field": "id", "type": "nominal"}}},
{"data": {"name": "e3"}, "mark": {"type": "tick", "orient": "horizontal", "color": "black", "size": 7, "thickness": 1, "opacity": 1}},
{"data": {"name": "q3"}, "mark": {"type": "point", "filled": true, "opacity": 1, "size": 70}, "encoding": {"color": {"field": "s", "type": "nominal", "scale": {"domain": ["Methanproduktivität", "AASF Bakterien", "Methanogene", "M/A"], "range": ["#4A7EBB", "#98B954", "#BE4B48", "#7D60A0"]}, "legend": {"title": null, "orient": "none", "legendX": 14, "legendY": 365.5, "direction": "horizontal",
"encode": {"symbols": {"update": {"shape": {"signal": "datum.value === 'AASF Bakterien' ? 'M-1,0H1M0,-0.27L0.27,0.2L-0.27,0.2Z' : datum.value === 'Methanogene' ? 'M-1,0H1M-0.21,-0.21H0.21V0.21H-0.21Z' : datum.value === 'M/A' ? 'M-1,0H1M0,-0.25L0.2,0L0,0.25L-0.2,0Z' : 'M-1,0H1'"}, "fill": {"signal": "datum.value === 'AASF Bakterien' ? '#98B954' : datum.value === 'Methanogene' ? '#BE4B48' : datum.value === 'M/A' ? '#7D60A0' : '#4A7EBB'"}, "stroke": {"signal": "datum.value === 'AASF Bakterien' ? '#98B954' : datum.value === 'Methanogene' ? '#BE4B48' : datum.value === 'M/A' ? '#7D60A0' : '#4A7EBB'"}, "strokeWidth": {"value": 2.5}, "opacity": {"value": 1}, "fillOpacity": {"value": 1}, "strokeOpacity": {"value": 1}}}}}},
"shape": {"field": "s", "type": "nominal", "scale": {"domain": ["AASF Bakterien", "Methanogene", "M/A"], "range": ["triangle-up", "square", "diamond"]}, "legend": null}}}
]}
]
},
{
"width": 627, "height": 397,
"title": {"text": "BM4M", "fontSize": 30, "fontWeight": "bold", "anchor": "middle", "frame": "group", "offset": -46, "color": "black", "font": "DejaVu Sans"},
"resolve": {"scale": {"y": "independent"}},
"layer": [
{"data": {"name": "p4"}, "mark": {"type": "line", "strokeWidth": 2.5, "strokeJoin": "round"},
"encoding": {
"x": {"field": "d", "type": "temporal", "scale": {"type": "utc", "domain": [{"year":2012,"month":10,"date":18,"utc":true},{"year":2016,"month":1,"date":31,"utc":true}], "range": [88.4, 512], "nice": false},
"axis": {"orient": "bottom", "offset": -122.3, "values": [{"year":2012,"month":10,"date":18,"utc":true},{"year":2013,"month":5,"date":6,"utc":true},{"year":2013,"month":11,"date":22,"utc":true},{"year":2014,"month":6,"date":10,"utc":true},{"year":2014,"month":12,"date":27,"utc":true},{"year":2015,"month":7,"date":15,"utc":true},{"year":2016,"month":1,"date":31,"utc":true}], "format": "%d.%m.%Y", "labelAngle": -50, "labelFontSize": 16.5, "labelPadding": 14, "tickSize": 5, "title": null}},
"y": {"field": "v", "type": "quantitative", "scale": {"domain": [0, 0.9], "range": [274.7, 50.7], "nice": false, "zero": false},
"axis": {"orient": "left", "offset": -88.4, "values": [0,0.1,0.2,0.3,0.4,0.5,0.6,0.7,0.8,0.9], "labelExpr": "datum.value == 0 ? '0' : replace(format(datum.value, '.1f'), '.', ',')", "grid": true, "tickSize": 5, "labelPadding": 9, "title": ["Methanproduktivität", "[NL CH₄ * Lꜰᴍ⁻¹ * d⁻¹]"], "titlePadding": 8.5}},
"color": {"datum": "Methanproduktivität", "type": "nominal", "scale": {"domain": ["Methanproduktivität", "AASF Bakterien", "Methanogene", "M/A"], "range": ["#4A7EBB", "#98B954", "#BE4B48", "#7D60A0"]},
"legend": {"title": null, "orient": "none", "legendX": 14, "legendY": 362.5, "direction": "horizontal",
"encode": {"symbols": {"update": {"shape": {"signal": "datum.value === 'AASF Bakterien' ? 'M-1,0H1M0,-0.27L0.27,0.2L-0.27,0.2Z' : datum.value === 'Methanogene' ? 'M-1,0H1M-0.21,-0.21H0.21V0.21H-0.21Z' : datum.value === 'M/A' ? 'M-1,0H1M0,-0.25L0.2,0L0,0.25L-0.2,0Z' : 'M-1,0H1'"}, "fill": {"signal": "datum.value === 'AASF Bakterien' ? '#98B954' : datum.value === 'Methanogene' ? '#BE4B48' : datum.value === 'M/A' ? '#7D60A0' : '#4A7EBB'"}, "stroke": {"signal": "datum.value === 'AASF Bakterien' ? '#98B954' : datum.value === 'Methanogene' ? '#BE4B48' : datum.value === 'M/A' ? '#7D60A0' : '#4A7EBB'"}, "strokeWidth": {"value": 2.5}, "opacity": {"value": 1}, "fillOpacity": {"value": 1}, "strokeOpacity": {"value": 1}}}}}}
}},
{"encoding": {
"x": {"field": "d", "type": "temporal", "scale": {"type": "utc", "domain": [{"year":2012,"month":10,"date":18,"utc":true},{"year":2016,"month":1,"date":31,"utc":true}], "range": [88.4, 512], "nice": false},
"axis": {"orient": "bottom", "offset": -122.3, "values": [{"year":2012,"month":10,"date":18,"utc":true},{"year":2013,"month":5,"date":6,"utc":true},{"year":2013,"month":11,"date":22,"utc":true},{"year":2014,"month":6,"date":10,"utc":true},{"year":2014,"month":12,"date":27,"utc":true},{"year":2015,"month":7,"date":15,"utc":true},{"year":2016,"month":1,"date":31,"utc":true}], "format": "%d.%m.%Y", "labelAngle": -50, "labelFontSize": 16.5, "labelPadding": 14, "tickSize": 5, "title": null}},
"y": {"field": "v", "type": "quantitative", "scale": {"type": "log", "domain": [1, 1e10], "range": [274.7, 50.7], "nice": false},
"axis": {"orient": "right", "offset": -115, "tickCount": 50, "labelExpr": "abs(log(datum.value)/LN10 - round(log(datum.value)/LN10)) < 0.01 ? '1E' + format(round(log(datum.value)/LN10), '+03d') : ''", "tickColor": {"condition": {"test": "abs(log(datum.value)/LN10 - round(log(datum.value)/LN10)) < 0.01", "value": "#8C8C8C"}, "value": "#B4B4B4"}, "tickSize": {"condition": {"test": "abs(log(datum.value)/LN10 - round(log(datum.value)/LN10)) < 0.01", "value": 6}, "value": 4}, "labelPadding": 8, "title": ["DNA Konz. [Kopien * mLꜰᴍ⁻¹],", "M/A [-]"], "titleAngle": 270, "titleBaseline": "top", "titleX": 84, "titleY": 162.7, "titleLineHeight": 19}}
},
"layer": [
{"data": {"name": "q4"}, "mark": {"type": "line", "strokeWidth": 2.2, "strokeJoin": "round"}, "encoding": {"color": {"field": "s", "type": "nominal", "scale": {"domain": ["Methanproduktivität", "AASF Bakterien", "Methanogene", "M/A"], "range": ["#4A7EBB", "#98B954", "#BE4B48", "#7D60A0"]},
"legend": {"title": null, "orient": "none", "legendX": 14, "legendY": 362.5, "direction": "horizontal",
"encode": {"symbols": {"update": {"shape": {"signal": "datum.value === 'AASF Bakterien' ? 'M-1,0H1M0,-0.27L0.27,0.2L-0.27,0.2Z' : datum.value === 'Methanogene' ? 'M-1,0H1M-0.21,-0.21H0.21V0.21H-0.21Z' : datum.value === 'M/A' ? 'M-1,0H1M0,-0.25L0.2,0L0,0.25L-0.2,0Z' : 'M-1,0H1'"}, "fill": {"signal": "datum.value === 'AASF Bakterien' ? '#98B954' : datum.value === 'Methanogene' ? '#BE4B48' : datum.value === 'M/A' ? '#7D60A0' : '#4A7EBB'"}, "stroke": {"signal": "datum.value === 'AASF Bakterien' ? '#98B954' : datum.value === 'Methanogene' ? '#BE4B48' : datum.value === 'M/A' ? '#7D60A0' : '#4A7EBB'"}, "strokeWidth": {"value": 2.5}, "opacity": {"value": 1}, "fillOpacity": {"value": 1}, "strokeOpacity": {"value": 1}}}}}}}},
{"data": {"name": "e4"}, "mark": {"type": "line", "color": "black", "strokeWidth": 1}, "encoding": {"detail": {"field": "id", "type": "nominal"}}},
{"data": {"name": "e4"}, "mark": {"type": "tick", "orient": "horizontal", "color": "black", "size": 7, "thickness": 1, "opacity": 1}},
{"data": {"name": "q4"}, "mark": {"type": "point", "filled": true, "opacity": 1, "size": 70}, "encoding": {"color": {"field": "s", "type": "nominal", "scale": {"domain": ["Methanproduktivität", "AASF Bakterien", "Methanogene", "M/A"], "range": ["#4A7EBB", "#98B954", "#BE4B48", "#7D60A0"]}, "legend": {"title": null, "orient": "none", "legendX": 14, "legendY": 362.5, "direction": "horizontal",
"encode": {"symbols": {"update": {"shape": {"signal": "datum.value === 'AASF Bakterien' ? 'M-1,0H1M0,-0.27L0.27,0.2L-0.27,0.2Z' : datum.value === 'Methanogene' ? 'M-1,0H1M-0.21,-0.21H0.21V0.21H-0.21Z' : datum.value === 'M/A' ? 'M-1,0H1M0,-0.25L0.2,0L0,0.25L-0.2,0Z' : 'M-1,0H1'"}, "fill": {"signal": "datum.value === 'AASF Bakterien' ? '#98B954' : datum.value === 'Methanogene' ? '#BE4B48' : datum.value === 'M/A' ? '#7D60A0' : '#4A7EBB'"}, "stroke": {"signal": "datum.value === 'AASF Bakterien' ? '#98B954' : datum.value === 'Methanogene' ? '#BE4B48' : datum.value === 'M/A' ? '#7D60A0' : '#4A7EBB'"}, "strokeWidth": {"value": 2.5}, "opacity": {"value": 1}, "fillOpacity": {"value": 1}, "strokeOpacity": {"value": 1}}}}}},
"shape": {"field": "s", "type": "nominal", "scale": {"domain": ["AASF Bakterien", "Methanogene", "M/A"], "range": ["triangle-up", "square", "diamond"]}, "legend": null}}}
]}
]
}
],
"config": {
"font": "DejaVu Sans",
"view": {"stroke": "black", "strokeWidth": 1.3},
"concat": {"spacing": 0},
"axis": {"labelFont": "DejaVu Sans", "titleFont": "DejaVu Sans", "labelColor": "black", "titleColor": "black", "labelFontSize": 15, "titleFontSize": 15.5, "titleFontWeight": "bold", "titleLineHeight": 20, "domainColor": "#8C8C8C", "domainWidth": 1.2, "tickColor": "#8C8C8C", "tickWidth": 1.2, "gridColor": "#8C8C8C", "gridWidth": 1.2, "grid": false, "labelOverlap": false, "labelFlush": false, "labelBound": false},
"legend": {"labelFont": "DejaVu Sans", "labelFontSize": 15.5, "labelColor": "black", "symbolSize": 1089, "symbolStrokeWidth": 2.5, "labelOffset": 3, "columnPadding": 7, "labelLimit": 300, "padding": 0},
"title": {"font": "DejaVu Sans"}
}
}
